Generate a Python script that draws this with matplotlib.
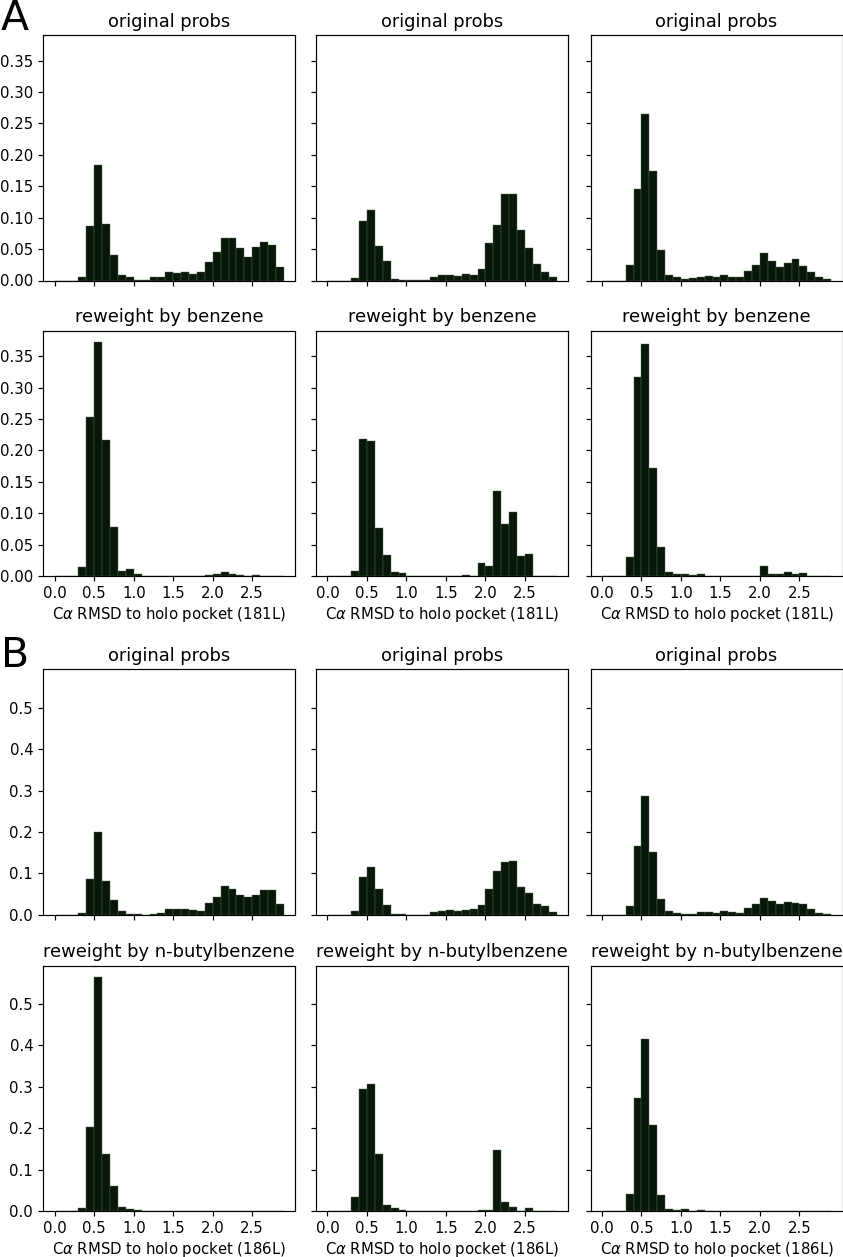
#!/usr/bin/env python3
"""
Reweighted RMSD histograms for two ligands (benzene / n-butylbenzene).
Row pairs: original probabilities vs. reweighted ones, three runs each.
"""

import numpy as np
import matplotlib
matplotlib.use("Agg")
import matplotlib.pyplot as plt

# --- Data: probability per 0.1 A bin, bins start at 0.0 ---

BIN_LEFT = [0.0, 0.1, 0.2, 0.3, 0.4, 0.5, 0.6, 0.7, 0.8, 0.9,
            1.0, 1.1, 1.2, 1.3, 1.4, 1.5, 1.6, 1.7, 1.8, 1.9,
            2.0, 2.1, 2.2, 2.3, 2.4, 2.5, 2.6, 2.7, 2.8]
BIN_WIDTH = 0.1

# block A (181L, benzene)
a_orig_1 = [0, 0, 0, 0.005, 0.087, 0.184, 0.090, 0.040, 0.009, 0.005,
            0.0005, 0.0005, 0.006, 0.005, 0.013, 0.012, 0.013, 0.011, 0.014, 0.029,
            0.045, 0.067, 0.067, 0.051, 0.038, 0.053, 0.061, 0.056, 0.022]
a_orig_2 = [0, 0, 0, 0.004, 0.095, 0.112, 0.055, 0.031, 0.003, 0.0005,
            0.001, 0.001, 0.001, 0.006, 0.0085, 0.0085, 0.007, 0.010, 0.0085, 0.019,
            0.060, 0.089, 0.137, 0.138, 0.080, 0.051, 0.026, 0.013, 0.005]
a_orig_3 = [0, 0, 0, 0.024, 0.146, 0.265, 0.175, 0.048, 0.009, 0.006,
            0.002, 0.004, 0.006, 0.0075, 0.005, 0.0095, 0.005, 0.006, 0.015, 0.024,
            0.043, 0.031, 0.021, 0.028, 0.034, 0.023, 0.013, 0.005, 0.002]
a_rew_1 = [0, 0, 0, 0.015, 0.253, 0.372, 0.216, 0.079, 0.008, 0.012,
           0.004, 0.0005, 0, 0, 0, 0.001, 0, 0, 0.001, 0.0015,
           0.003, 0.006, 0.003, 0.0015, 0, 0.0025, 0.0005, 0, 0]
a_rew_2 = [0, 0, 0, 0.009, 0.219, 0.215, 0.076, 0.033, 0.006, 0.005,
           0.0003, 0.0003, 0, 0, 0, 0, 0, 0.0015, 0, 0.021,
           0.017, 0.136, 0.083, 0.102, 0.032, 0.036, 0, 0.001, 0]
a_rew_3 = [0, 0, 0, 0.031, 0.317, 0.370, 0.172, 0.046, 0.007, 0.004,
           0.003, 0.002, 0.003, 0, 0, 0, 0, 0, 0, 0.0005,
           0.017, 0.004, 0.004, 0.006, 0.004, 0.005, 0, 0, 0]

# block B (186L, n-butylbenzene)
b_orig_1 = [0, 0, 0, 0.005, 0.087, 0.200, 0.081, 0.035, 0.009, 0.0015,
            0.001, 0.0005, 0.003, 0.004, 0.013, 0.013, 0.014, 0.011, 0.010, 0.028,
            0.043, 0.069, 0.063, 0.048, 0.044, 0.047, 0.059, 0.061, 0.025]
b_orig_2 = [0, 0, 0, 0.010, 0.092, 0.116, 0.062, 0.023, 0.0015, 0.0008,
            0.0005, 0.0005, 0.0005, 0.006, 0.009, 0.011, 0.008, 0.011, 0.014, 0.024,
            0.062, 0.105, 0.127, 0.131, 0.067, 0.052, 0.025, 0.021, 0.007]
b_orig_3 = [0, 0, 0, 0.021, 0.166, 0.286, 0.151, 0.039, 0.010, 0.005,
            0.0025, 0.001, 0.007, 0.006, 0.0055, 0.009, 0.007, 0.0055, 0.017, 0.027,
            0.040, 0.034, 0.025, 0.031, 0.029, 0.026, 0.014, 0.0055, 0.0015]
b_rew_1 = [0, 0, 0, 0.008, 0.204, 0.565, 0.137, 0.060, 0.010, 0.004,
           0.0025, 0.0008, 0, 0, 0, 0, 0, 0, 0, 0,
           0, 0, 0, 0, 0, 0, 0, 0, 0]
b_rew_2 = [0, 0, 0, 0.035, 0.295, 0.308, 0.138, 0.014, 0.0065, 0.0015,
           0, 0, 0, 0, 0, 0, 0, 0, 0, 0.0015,
           0.003, 0.148, 0.021, 0.010, 0, 0.0065, 0, 0, 0]
b_rew_3 = [0, 0, 0, 0.042, 0.274, 0.416, 0.209, 0.038, 0.004, 0.0015,
           0.004, 0.001, 0.003, 0, 0, 0, 0, 0, 0, 0,
           0, 0, 0, 0, 0, 0, 0, 0, 0]

blocks = [
    ("A", "181L", "benzene",
     [a_orig_1, a_orig_2, a_orig_3], [a_rew_1, a_rew_2, a_rew_3]),
    ("B", "186L", "n-butylbenzene",
     [b_orig_1, b_orig_2, b_orig_3], [b_rew_1, b_rew_2, b_rew_3]),
]

# --- Style ---
BAR_COLOR = "#081808"
EDGE_COLOR = "#56654f"
S = 1.07  # the original was rendered slightly larger than 100 dpi

plt.rcParams.update({
    "font.size": 10 * S,
    "axes.titlesize": 12 * S,
    "axes.labelsize": 10 * S,
    "xtick.labelsize": 10 * S,
    "ytick.labelsize": 10 * S,
    "axes.linewidth": 0.8 * S,
    "xtick.major.width": 0.8 * S,
    "ytick.major.width": 0.8 * S,
    "xtick.major.size": 3.5 * S,
    "ytick.major.size": 3.5 * S,
})

W, H = 843, 1257
fig = plt.figure(figsize=(W / 100, H / 100), dpi=100)

# pixel layout of the panels (left edges, top edges, size)
col_left = [43.3, 316.0, 590.5]
row_top = [[35.0, 330.7], [669.3, 965.5]]
ax_w, ax_h = 252.0, 245.5

edges = list(BIN_LEFT) + [BIN_LEFT[-1] + BIN_WIDTH]
centers = [b + BIN_WIDTH / 2 for b in BIN_LEFT]

for bi, (letter, pdb, ligand, orig, rew) in enumerate(blocks):
    first = None
    for ri, (title, runs) in enumerate([("original probs", orig),
                                        ("reweight by " + ligand, rew)]):
        for ci in range(3):
            rect = [col_left[ci] / W, 1 - (row_top[bi][ri] + ax_h) / H,
                    ax_w / W, ax_h / H]
            ax = fig.add_axes(rect, sharex=first, sharey=first)
            if first is None:
                first = ax
            ax.hist(centers, bins=edges, weights=runs[ci],
                    color=BAR_COLOR, edgecolor=EDGE_COLOR, linewidth=0.3)
            ax.set_title(title)
            ax.set_xticks([0.0, 0.5, 1.0, 1.5, 2.0, 2.5])
            if ci > 0:
                ax.tick_params(labelleft=False)
            if ri == 0:
                ax.tick_params(labelbottom=False)
            else:
                ax.set_xlabel(r"C$\alpha$ RMSD to holo pocket (" + pdb + ")",
                              labelpad=3)

    # panel letter
    letter_y = [30, 667][bi]
    fig.text(1 / W, 1 - letter_y / H, letter, fontsize=29.5,
             ha="left", va="baseline")

fig.savefig("out.png", dpi=100)
plt.close("all")
